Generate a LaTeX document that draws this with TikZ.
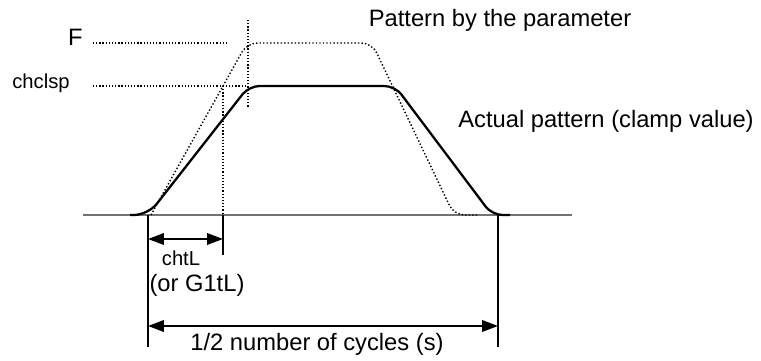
\documentclass[tikz,border=0pt]{standalone}
\usepackage{fontspec}
\setmainfont{Liberation Sans}
\usetikzlibrary{arrows.meta}

\begin{document}
\begin{tikzpicture}[
x=0.02cm, y=0.02cm,
bigtext/.style={inner sep=0pt, font=\fontsize{13.5}{16}\selectfont},
smalltext/.style={inner sep=0pt, font=\fontsize{11.5}{13}\selectfont},
axis/.style={draw=black!55, line width=1.1pt},
guide/.style={line width=0.7pt, dash pattern=on 0.7pt off 1.1pt},
actual/.style={line width=1.3pt, rounded corners=6pt},
param/.style={line width=0.8pt, dash pattern=on 0.8pt off 1.2pt, rounded corners=6pt},
dimline/.style={line width=1.1pt},
dimarrow/.style={line width=1.1pt, {Triangle[length=9pt,width=6.5pt]}-{Triangle[length=9pt,width=6.5pt]}}
]
\useasboundingbox (0,0) rectangle (761,360);

% levels and marks
\coordinate (ax0) at (83,145);
\coordinate (ax1) at (572,145);
\coordinate (f0) at (93,317);
\coordinate (f1) at (227,317);
\coordinate (c0) at (93,274);
\coordinate (c1) at (247,274);
\coordinate (v0) at (248,340);
\coordinate (v1) at (248,252);
\coordinate (h0) at (223,274);
\coordinate (h1) at (223,145);

\node[bigtext, anchor=base east] (flab) at (83,315) {F};
\node[smalltext, anchor=base west] (clab) at (12,272) {chclsp};
\node[bigtext, anchor=base] (plab) at (500,334) {Pattern by the parameter};
\node[bigtext, anchor=base] (alab) at (606,233) {Actual pattern (clamp value)};

\draw[axis] (ax0) -- (ax1);
\draw[guide] (f0) -- (f1);
\draw[guide] (c0) -- (c1);
\draw[guide] (v0) -- (v1);
\draw[guide] (h0) -- (h1);

% parameter pattern
\draw[param] (151,145) -- (247,317) -- (372,317) -- (454,145) [rounded corners=10pt] -- (478,145);
% actual pattern
\draw[actual] (130,145) [rounded corners=8pt] -- (148,145) [rounded corners=6pt] -- (249,274) -- (395,274) -- (492,145) -- (510,145);

% dimensions
\coordinate (l0) at (148,145);
\coordinate (l1) at (148,13);
\coordinate (r0) at (498,145);
\coordinate (r1) at (498,13);
\coordinate (m0) at (223,145);
\coordinate (m1) at (223,105);
\draw[dimline] (l0) -- (l1);
\draw[dimline] (r0) -- (r1);
\draw[dimline] (m0) -- (m1);

\coordinate (t0) at (148,121);
\coordinate (t1) at (223,121);
\coordinate (n0) at (148,34);
\coordinate (n1) at (498,34);
\draw[dimarrow] (t0) -- (t1);
\draw[dimarrow] (n0) -- (n1);

\node[smalltext, anchor=base] (tlab) at (181,95) {chtL};
\node[bigtext, anchor=base] (glab) at (197,69) {(or G1tL)};
\node[bigtext, anchor=base] (nlab) at (317,10) {1/2 number of cycles (s)};
\end{tikzpicture}
\end{document}
